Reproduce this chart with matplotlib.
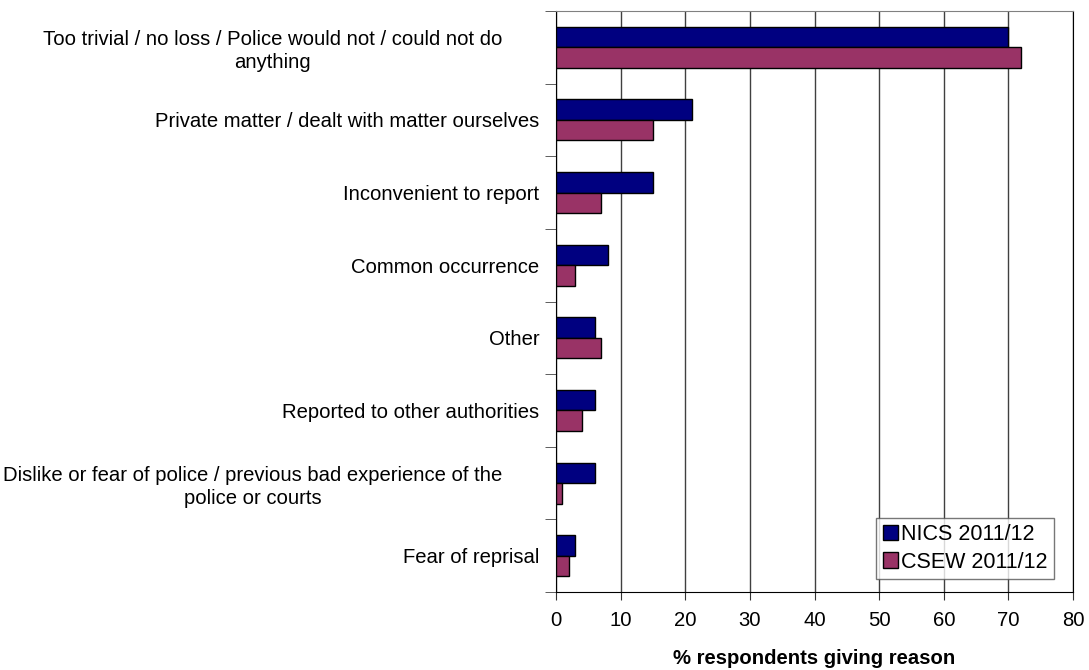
import matplotlib.pyplot as plt
import matplotlib.transforms as mtransforms
import numpy as np

plt.rcParams['font.family'] = ['Liberation Sans', 'DejaVu Sans']

categories = [
    "Too trivial / no loss / Police would not / could not do\nanything",
    "Private matter / dealt with matter ourselves",
    "Inconvenient to report",
    "Common occurrence",
    "Other",
    "Reported to other authorities",
    "Dislike or fear of police / previous bad experience of the\npolice or courts",
    "Fear of reprisal",
]
nics = [70, 21, 15, 8, 6, 6, 6, 3]
csew = [72, 15, 7, 3, 7, 4, 1, 2]
series_names = ["NICS 2011/12", "CSEW 2011/12"]

fs = 14.6

fig = plt.figure(figsize=(10.89, 6.70), dpi=100)
ax = fig.add_axes([556 / 1089, 1 - 592 / 670, (1073 - 556) / 1089, (592 - 11) / 670])

y = np.arange(len(categories))
h = 0.283
ax.barh(y - h / 2, nics, height=h, color="#000080", edgecolor="black", linewidth=1,
        label=series_names[0], zorder=3)
ax.barh(y + h / 2, csew, height=h, color="#993366", edgecolor="black", linewidth=1,
        label=series_names[1], zorder=3)

ax.set_xlim(0, 80)
ax.set_ylim(len(categories) - 0.5, -0.5)
ax.set_xticks(np.arange(0, 81, 10))
ax.tick_params(axis="x", labelsize=fs, length=6, direction="out", pad=8, color="#333333")
ax.xaxis.grid(True, color="#404040", linewidth=1, zorder=0)

ax.set_yticks(y)
ax.set_yticklabels(categories, fontsize=fs, multialignment="center", linespacing=1.25)
ax.set_yticks(np.arange(-0.5, len(categories)), minor=True)
ax.tick_params(axis="y", which="major", length=0, pad=12)
ax.tick_params(axis="y", which="minor", length=8, direction="out", color="#444444")

# two-line labels sit further left, as in the original
offset = mtransforms.ScaledTranslation(-0.37, 0, fig.dpi_scale_trans)
for lab in ax.get_yticklabels():
    if "\n" in lab.get_text():
        lab.set_transform(lab.get_transform() + offset)

ax.set_xlabel("% respondents giving reason", fontsize=fs, fontweight="bold", labelpad=13)

for side in ["left", "bottom", "right"]:
    ax.spines[side].set_color("black")
ax.spines["top"].set_color("#808080")

leg = ax.legend(loc="lower right", fontsize=15.5, frameon=True, fancybox=False,
                edgecolor="#555555", handlelength=0.7, handleheight=0.7,
                handletextpad=0.15, borderpad=0.3, labelspacing=0.3,
                borderaxespad=0.0, bbox_to_anchor=(1054 / 1089, 1 - 579 / 670),
                bbox_transform=fig.transFigure)
leg.get_frame().set_linewidth(1)

fig.savefig("out.png", dpi=100)
